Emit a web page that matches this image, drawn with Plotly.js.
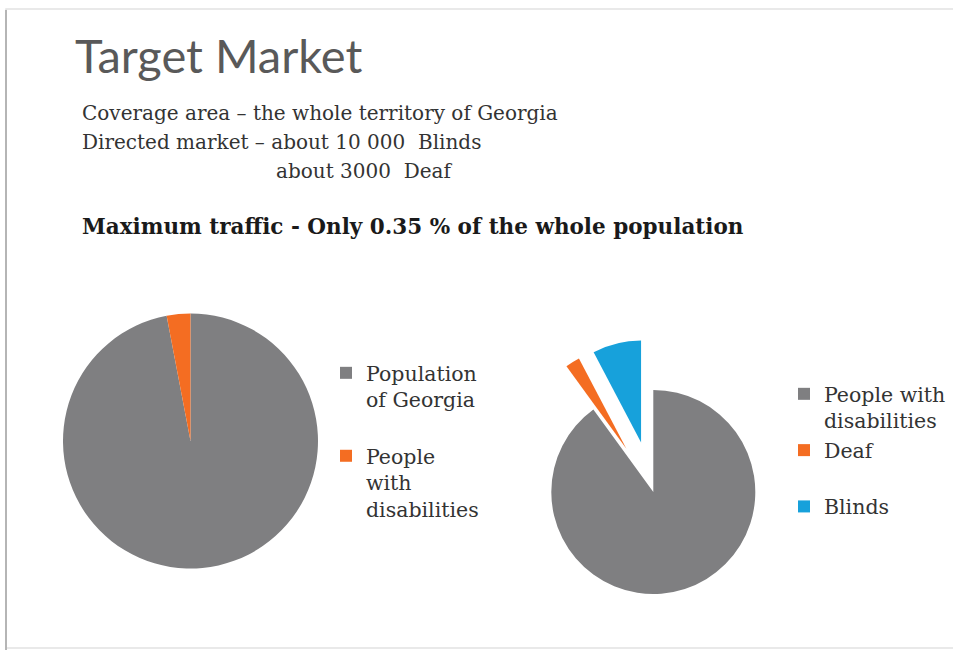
<!DOCTYPE html>
<html>
<head>
<meta charset="utf-8">
<script src="https://cdn.plot.ly/plotly-3.0.1.min.js"></script>
<style>
  html, body { margin: 0; padding: 0; background: #ffffff; }
  #chart { width: 953px; height: 650px; }
</style>
</head>
<body>
<div id="chart"></div>
<script>
// ---- data ----
const titleText = 'Target Market';
const bodyLines = [
  'Coverage area \u2013 the whole territory of Georgia',
  'Directed market \u2013 about 10 000  Blinds',
  'about 3000  Deaf'
];
const headline = 'Maximum traffic - Only 0.35 % of the whole population';

const leftLabels = ['Population<br>of Georgia<br> ', 'People<br>with<br>disabilities'];
const leftValues = [97, 3];
const leftColors = ['#7f7f81', '#f46d22'];

const rightLabels = ['People with<br>disabilities', 'Deaf<br> ', 'Blinds'];
const rightValues = [90, 2.3, 7.7];
const rightPull = [0, 0.5, 0.5];
const rightColors = ['#7f7f81', '#f46d22', '#17a1db'];

// ---- helpers (pixel -> paper) ----
const W = 953, H = 650;
const px = v => v / W;
const py = v => 1 - v / H;

const serif = 'DejaVu Serif, Liberation Serif, serif';

const traces = [
  {
    type: 'pie',
    labels: leftLabels,
    values: leftValues,
    marker: { colors: leftColors, line: { width: 0 } },
    sort: false,
    direction: 'clockwise',
    rotation: 0,
    textinfo: 'none',
    hoverinfo: 'label+percent',
    domain: { x: [px(62.7), px(318.3)], y: [py(568.5), py(313.5)] },
    legend: 'legend'
  },
  {
    type: 'pie',
    labels: rightLabels,
    values: rightValues,
    pull: rightPull,
    marker: { colors: rightColors, line: { width: 0 } },
    sort: false,
    direction: 'clockwise',
    rotation: 0,
    textinfo: 'none',
    hoverinfo: 'label+percent',
    domain: { x: [px(500.3), px(806.3)], y: [py(645), py(339)] },
    legend: 'legend2'
  }
];

const annotations = [
  { text: titleText, x: px(73), y: py(55), xanchor: 'left', yanchor: 'middle',
    font: { family: 'Lato, Open Sans, sans-serif', size: 47, color: '#595959' } },
  { text: bodyLines[0], x: px(80), y: py(113), xanchor: 'left', yanchor: 'middle',
    font: { family: serif, size: 20, color: '#333333' } },
  { text: bodyLines[1], x: px(80), y: py(142), xanchor: 'left', yanchor: 'middle',
    font: { family: serif, size: 20, color: '#333333' } },
  { text: bodyLines[2], x: px(274), y: py(171), xanchor: 'left', yanchor: 'middle',
    font: { family: serif, size: 20, color: '#333333' } },
  { text: '<b>' + headline + '</b>', x: px(80), y: py(226), xanchor: 'left', yanchor: 'middle',
    font: { family: serif, size: 21.5, color: '#1a1a1a' } }
].map(a => Object.assign({ xref: 'paper', yref: 'paper', showarrow: false }, a));

const layout = {
  width: W, height: H,
  margin: { l: 0, r: 0, t: 0, b: 0 },
  paper_bgcolor: '#ffffff',
  plot_bgcolor: '#ffffff',
  showlegend: true,
  legend: {
    x: px(326), y: py(353), xanchor: 'left', yanchor: 'top',
    valign: 'top', bgcolor: 'rgba(0,0,0,0)',
    font: { family: serif, size: 20.5, color: '#333333' }
  },
  legend2: {
    x: px(784), y: py(374), xanchor: 'left', yanchor: 'top',
    valign: 'top', bgcolor: 'rgba(0,0,0,0)',
    font: { family: serif, size: 20.5, color: '#333333' }
  },
  annotations: annotations,
  shapes: [
    { type: 'rect', xref: 'paper', yref: 'paper', x0: px(6), x1: px(965), y0: py(648), y1: py(9),
      line: { color: '#e2e2e2', width: 1.5 }, layer: 'below' },
    { type: 'line', xref: 'paper', yref: 'paper', x0: px(6), x1: px(6), y0: py(650), y1: py(10),
      line: { color: '#b5b5b5', width: 2 }, layer: 'below' }
  ]
};

Plotly.newPlot('chart', traces, layout, { displayModeBar: false, staticPlot: true });
</script>
</body>
</html>
